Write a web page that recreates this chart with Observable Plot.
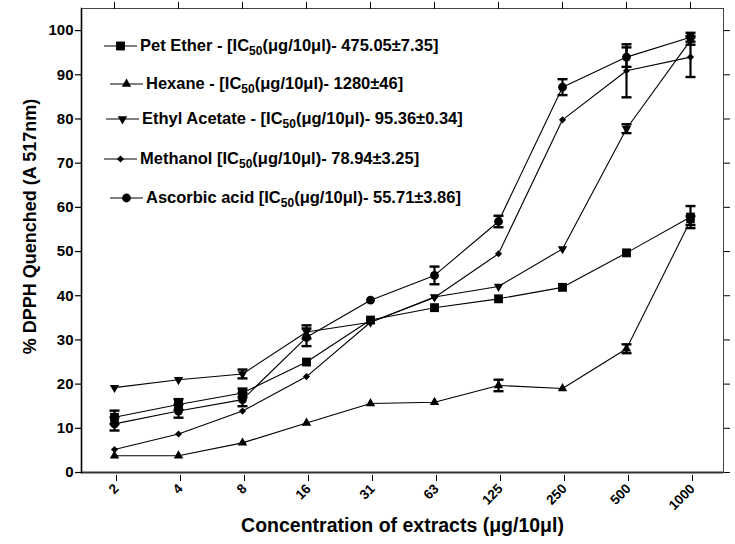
<!DOCTYPE html>
<html>
<head>
<meta charset="utf-8">
<script src="https://cdn.jsdelivr.net/npm/d3@7"></script>
<script src="https://cdn.jsdelivr.net/npm/@observablehq/plot@0.6"></script>
<style>
  body { margin: 0; background: #fff; }
  #wrap { position: relative; width: 735px; height: 544px; font-family: "Liberation Sans", Arial, sans-serif; font-weight: bold; }
  #legend { position: absolute; left: 104px; top: 36px; }
  .row { position: absolute; display: flex; align-items: center; white-space: nowrap; font-size: 16.5px; color: #000; }
  .row svg { display: block; margin-right: 3px; }
  .row sub { font-size: 12px; vertical-align: -4px; line-height: 0; }
</style>
</head>
<body>
<div id="wrap"><div id="chart"></div><div id="legend"></div></div>
<script>
// ---------- data ----------
const concentrations = ["2", "4", "8", "16", "31", "63", "125", "250", "500", "1000"];
const yTicks = [0, 10, 20, 30, 40, 50, 60, 70, 80, 90, 100];

const seriesNames = ["Pet Ether", "Hexane", "Ethyl Acetate", "Methanol", "Ascorbic acid"];
const legendPrefix = ["Pet Ether - [IC", "Hexane - [IC", "Ethyl Acetate - [IC", "Methanol [IC", "Ascorbic acid [IC"];
const legendSub = "50";
const legendSuffix = [
  "(μg/10μl)- 475.05±7.35]",
  "(μg/10μl)- 1280±46]",
  "(μg/10μl)- 95.36±0.34]",
  "(μg/10μl)- 78.94±3.25]",
  "(μg/10μl)- 55.71±3.86]"
];

const petEther        = [12.5, 15.4, 18.0, 25.0, 34.5, 37.3, 39.3, 41.9, 49.7, 57.8];
const petEtherErr     = [1.5, 1.2, 1.0, 0, 0, 0, 0, 0, 0, 2.5];
const hexane          = [3.8, 3.8, 6.7, 11.2, 15.6, 15.9, 19.7, 19.0, 28.0, 57.0];
const hexaneErr       = [0, 0, 0, 0, 0, 0, 1.3, 0, 1.0, 1.0];
const ethylAcetate    = [19.2, 21.0, 22.3, 31.8, 34.0, 39.7, 42.1, 50.6, 77.8, 97.8];
const ethylAcetateErr = [0, 0, 1.0, 1.5, 0, 0, 0, 0, 1.0, 1.0];
const methanol        = [5.2, 8.7, 13.9, 21.7, 34.0, 39.6, 49.5, 79.8, 90.9, 94.0];
const methanolErr     = [0, 0, 0, 0, 0, 0, 0, 0, 6.0, 4.5];
const ascorbicAcid    = [11.0, 13.9, 16.5, 30.6, 39.0, 44.6, 56.8, 87.2, 94.0, 98.5];
const ascorbicAcidErr = [1.5, 1.5, 1.5, 2.0, 0, 2.0, 1.3, 1.8, 2.2, 1.0];

const seriesValues = [petEther, hexane, ethylAcetate, methanol, ascorbicAcid];
const seriesErrors = [petEtherErr, hexaneErr, ethylAcetateErr, methanolErr, ascorbicAcidErr];

// ---------- styles ----------
const flip = s => ({
  draw(ctx, size) {
    s.draw({
      moveTo: (x, y) => ctx.moveTo(x, -y),
      lineTo: (x, y) => ctx.lineTo(x, -y),
      closePath: () => ctx.closePath()
    }, size);
  }
});
const triangleDown = flip(d3.symbolTriangle);
const capSymbol = {
  draw(ctx, size) { const w = Math.sqrt(size / Math.PI); ctx.moveTo(-w, 0); ctx.lineTo(w, 0); }
};
const seriesSymbols = [d3.symbolSquare, d3.symbolTriangle, triangleDown, d3.symbolDiamond2, d3.symbolCircle];
const seriesR = [5.0, 3.5, 3.5, 3.2, 4.4];
const legendRowTop = [0, 38, 73, 113, 152];
const legendRowLeft = [0, 6, 2, 0, 6];

// ---------- table ----------
const rows = [];
seriesNames.forEach((name, s) => {
  concentrations.forEach((c, i) => {
    rows.push({series: name, s, conc: c, value: seriesValues[s][i], err: seriesErrors[s][i]});
  });
});
const errRows = rows.filter(d => d.err > 0);

const dotMarks = seriesNames.map((name, s) =>
  Plot.dot(rows.filter(d => d.s === s), {
    x: "conc", y: "value", symbol: () => seriesSymbols[s], r: seriesR[s], fill: "black", stroke: "none"
  })
);

const chart = Plot.plot({
  width: 735,
  height: 544,
  marginLeft: 81,
  marginRight: 12,
  marginTop: 8,
  marginBottom: 72,
  style: {fontFamily: "Liberation Sans, Arial, sans-serif", fontWeight: "bold", fontSize: "15px", background: "white", overflow: "visible"},
  x: {type: "point", domain: concentrations, padding: 0.5},
  y: {domain: [0, 105]},
  symbol: {type: "identity"},
  marks: [
    Plot.frame({stroke: "#444", strokeWidth: 1}),
    Plot.axisY({ticks: yTicks, tickSize: 6, tickPadding: 2, fontSize: 15, label: null, strokeWidth: 1.2}),
    Plot.axisY({anchor: "right", ticks: yTicks, tickSize: 6, tickFormat: () => "", label: null}),
    Plot.axisX({anchor: "top", tickSize: 7, tickFormat: () => "", label: null}),
    Plot.axisX({anchor: "bottom", tickSize: 6, tickPadding: 5, tickRotate: -45, fontSize: 13.5, label: null, dx: 2, dy: 3}),
    Plot.ruleY([0], {stroke: "#333", strokeWidth: 2}),
    Plot.frame({anchor: "left", stroke: "#000", strokeWidth: 1.6}),
    Plot.ruleX(errRows, {x: "conc", y1: d => d.value - d.err, y2: d => d.value + d.err, stroke: "black", strokeWidth: 2.2}),
    Plot.dot(errRows, {x: "conc", y: d => d.value + d.err, symbol: () => capSymbol, r: 5, stroke: "black", strokeWidth: 2.4, fill: "none"}),
    Plot.dot(errRows, {x: "conc", y: d => d.value - d.err, symbol: () => capSymbol, r: 5, stroke: "black", strokeWidth: 2.4, fill: "none"}),
    Plot.line(rows, {x: "conc", y: "value", z: "series", stroke: "black", strokeWidth: 1.1}),
    ...dotMarks,
    Plot.text(["% DPPH Quenched (A 517nm)"], {text: d => d, frameAnchor: "left", textAnchor: "middle", rotate: -90, dx: -51, dy: -14, fontSize: 18, fontWeight: "bold"}),
    Plot.text(["Concentration of extracts (μg/10μl)"], {text: d => d, frameAnchor: "bottom", textAnchor: "middle", dy: 59, fontSize: 19.5, fontWeight: "bold"})
  ]
});
document.getElementById("chart").appendChild(chart);

// ---------- legend ----------
const legend = d3.select("#legend");
seriesNames.forEach((name, s) => {
  const row = legend.append("div").attr("class", "row")
    .style("top", legendRowTop[s] + "px").style("left", legendRowLeft[s] + "px");
  const svg = row.append("svg").attr("width", 33).attr("height", 16);
  svg.append("line").attr("x1", 0).attr("x2", 33).attr("y1", 8).attr("y2", 8).attr("stroke", "black").attr("stroke-width", 1.2);
  svg.append("path").attr("transform", "translate(16.5,8)")
    .attr("d", d3.symbol(seriesSymbols[s], seriesR[s] * seriesR[s] * Math.PI)())
    .attr("fill", "black");
  const span = row.append("span");
  span.append("span").text(legendPrefix[s]);
  span.append("sub").text(legendSub);
  span.append("span").text(legendSuffix[s]);
});
</script>
</body>
</html>
